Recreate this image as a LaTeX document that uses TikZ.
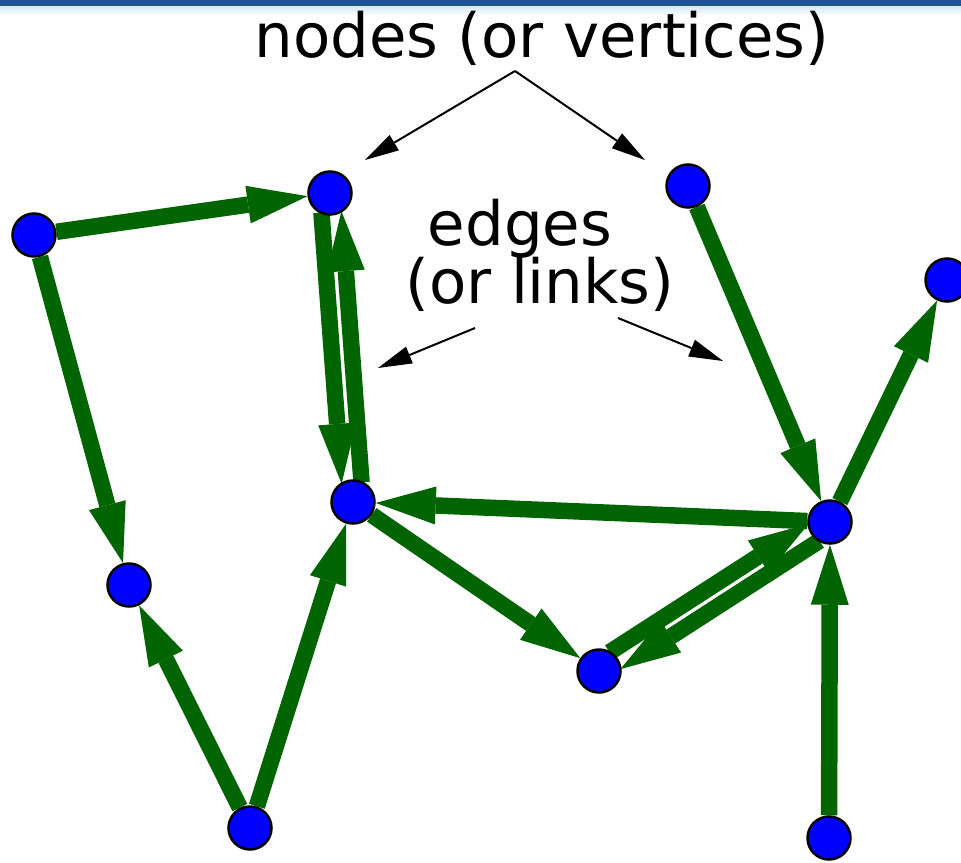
\documentclass[tikz,border=0pt]{standalone}
\usepackage{fontspec}
\setmainfont{DejaVu Sans}
\usetikzlibrary{arrows.meta,calc}
\definecolor{edgegreen}{RGB}{0,100,0}
\definecolor{topblue}{RGB}{30,85,140}
\definecolor{paleblue}{RGB}{215,232,245}
\pgfdeclarelayer{bg}
\pgfsetlayers{bg,main}
\begin{document}
\begin{tikzpicture}[x=1pt,y=-1pt,
  vertex/.style={circle,draw=black,line width=2.5pt,fill=blue,minimum size=43pt,inner sep=0pt},
  edge/.style={line width=16.5pt,draw=edgegreen,-{Triangle[length=60pt,width=38pt,line width=0pt]}},
  pair/.style={edge,shorten <=19pt,shorten >=19pt},
  note/.style={line width=2pt,draw=black,-{Triangle[length=34pt,width=18pt,line width=0pt]}},
  label/.style={font=\fontsize{61}{70}\selectfont,inner sep=0pt,anchor=base}]
\useasboundingbox (0,0) rectangle (961,862);
\clip (0,0) rectangle (961,862);
\fill[topblue] (0,0) rectangle (961,6);
\shade[top color=paleblue,bottom color=white] (0,6) rectangle (961,16);

% nodes
\node[vertex] (A) at (34,235) {};
\node[vertex] (B) at (330,193) {};
\node[vertex] (C) at (688,186) {};
\node[vertex] (D) at (947,280) {};
\node[vertex] (E) at (353,502) {};
\node[vertex] (F) at (830,522) {};
\node[vertex] (G) at (129,585) {};
\node[vertex] (H) at (599,671) {};
\node[vertex] (I) at (250,828) {};
\node[vertex] (J) at (829,838) {};

% edges
\begin{pgfonlayer}{bg}
\draw[edge] (A) -- (B);
\draw[edge] (A) -- (G);
\draw[edge] (C) -- (F);
\draw[edge] (F) -- (D);
\draw[edge] (F) -- (E);
\draw[edge] (E) -- (H);
\draw[edge] (I) -- (G);
\draw[edge] (I) -- (E);
\draw[edge] (J) -- (F);
\draw[pair] ($(B.center)!10pt!-90:(E.center)$) -- ($(E.center)!10pt!90:(B.center)$);
\draw[pair] ($(E.center)!10pt!-90:(B.center)$) -- ($(B.center)!10pt!90:(E.center)$);
\draw[pair] ($(H.center)!10pt!90:(F.center)$) -- ($(F.center)!10pt!-90:(H.center)$);
\draw[pair] ($(F.center)!10pt!90:(H.center)$) -- ($(H.center)!10pt!-90:(F.center)$);
\end{pgfonlayer}

% labels
\node[label] (nodestxt) at (542,57) {nodes (or vertices)};
\node[label] (edgestxt) at (520,245) {edges};
\node[label] (linkstxt) at (540,303) {(or links)};

% annotation arrows
\coordinate (apex) at (515,71);
\coordinate (tipB) at (365,160);
\coordinate (tipC) at (645,160);
\coordinate (lstart) at (475,328);
\coordinate (ltip) at (378,368);
\coordinate (rstart) at (618,318);
\coordinate (rtip) at (723,361);
\draw[note] (apex) -- (tipB);
\draw[note] (apex) -- (tipC);
\draw[note] (lstart) -- (ltip);
\draw[note] (rstart) -- (rtip);
\end{tikzpicture}
\end{document}
